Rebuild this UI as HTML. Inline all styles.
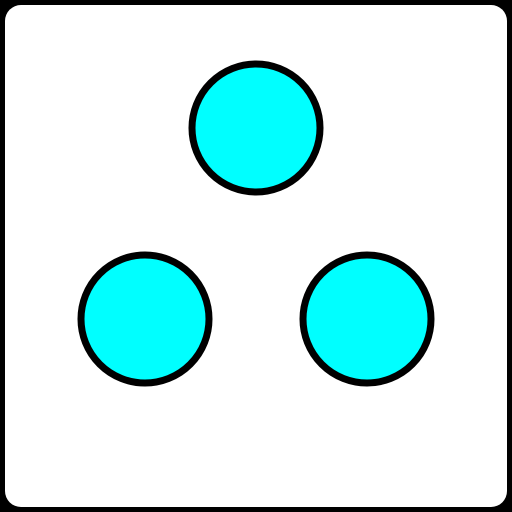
<!DOCTYPE html>
<html>
<head>
<meta charset="utf-8">
<style>
  html,body{margin:0;padding:0;background:#000;width:512px;height:512px;overflow:hidden;}
  svg{display:block;}
</style>
</head>
<body>
<svg id="chart" width="512" height="512" viewBox="0 0 512 512" xmlns="http://www.w3.org/2000/svg">
  <rect x="0" y="0" width="512" height="512" fill="#000"/>
  <rect x="5" y="5" width="502" height="502" rx="16" ry="16" fill="#fff"/>
</svg>
<script>
const pipX = [256, 145, 367];
const pipY = [128, 319, 319];
const pipR = [64, 64, 64];
const svg = document.getElementById('chart');
for (let i = 0; i < pipX.length; i++) {
  const c = document.createElementNS('http://www.w3.org/2000/svg', 'circle');
  c.setAttribute('cx', pipX[i]);
  c.setAttribute('cy', pipY[i]);
  c.setAttribute('r', pipR[i]);
  c.setAttribute('fill', '#00ffff');
  c.setAttribute('stroke', '#000');
  c.setAttribute('stroke-width', '7');
  
  
  svg.appendChild(c);
}
</script>
</body>
</html>
